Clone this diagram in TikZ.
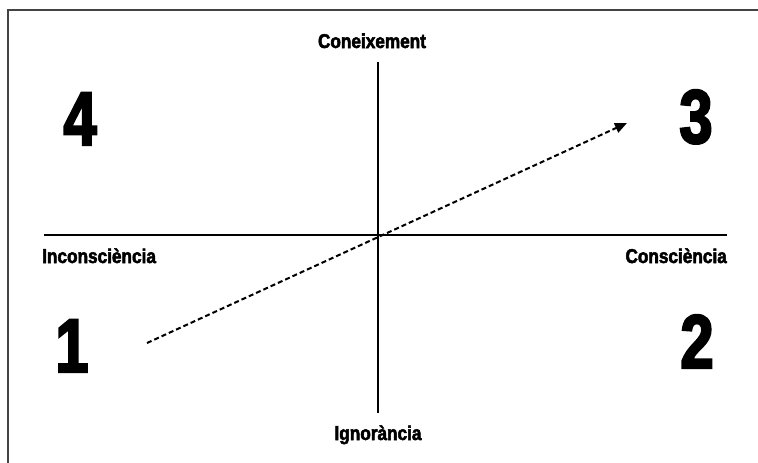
\documentclass[tikz,border=0pt]{standalone}
\usepackage{fontspec}
\setmainfont{Liberation Sans}
\newfontfamily\lblfont[FakeStretch=0.86,FakeBold=2.5]{Liberation Sans Bold}
\newfontfamily\numfont[FakeStretch=0.78,FakeBold=3]{Liberation Sans Bold}
\usetikzlibrary{arrows.meta}
\definecolor{framegray}{HTML}{444444}
\begin{document}
\begin{tikzpicture}[x=1pt,y=-1pt,
  axis/.style={line width=1.8pt,black},
  framel/.style={line width=2.2pt,framegray},
  lbl/.style={font=\lblfont\fontsize{20}{22}\selectfont,inner sep=0pt},
  num/.style={font=\numfont\fontsize{76}{80}\selectfont,inner sep=0pt,anchor=base},
  dasharrow/.style={line width=2pt,dash pattern=on 5pt off 3pt,-{Triangle[length=12pt,width=10pt]}}]
\useasboundingbox (0,0) rectangle (758,463);
% frame
\draw[framel] (8,463) -- (8,10) -- (758,10);
% axes
\coordinate (L) at (44,235);
\coordinate (R) at (727,235);
\coordinate (T) at (378,62);
\coordinate (B) at (378,413);
\draw[axis] (L) -- (R);
\draw[axis] (T) -- (B);
% labels
\node[lbl,anchor=base] (con) at (372,48) {Coneixement};
\node[lbl,anchor=base] (ign) at (378,440) {Ignorància};
\node[lbl,anchor=base west] (inc) at (42,263) {Inconsciència};
\node[lbl,anchor=base east] (cons) at (727,263) {Consciència};
% numbers
\node[num] (n4) at (80,145) {4};
\node[num] (n3) at (696,143) {3};
\node[num] (n1) at (72,372) {1};
\node[num] (n2) at (697,368) {2};
% arrow
\coordinate (s) at (147,343);
\coordinate (e) at (627,123);
\draw[dasharrow] (s) -- (e);
\end{tikzpicture}
\end{document}
